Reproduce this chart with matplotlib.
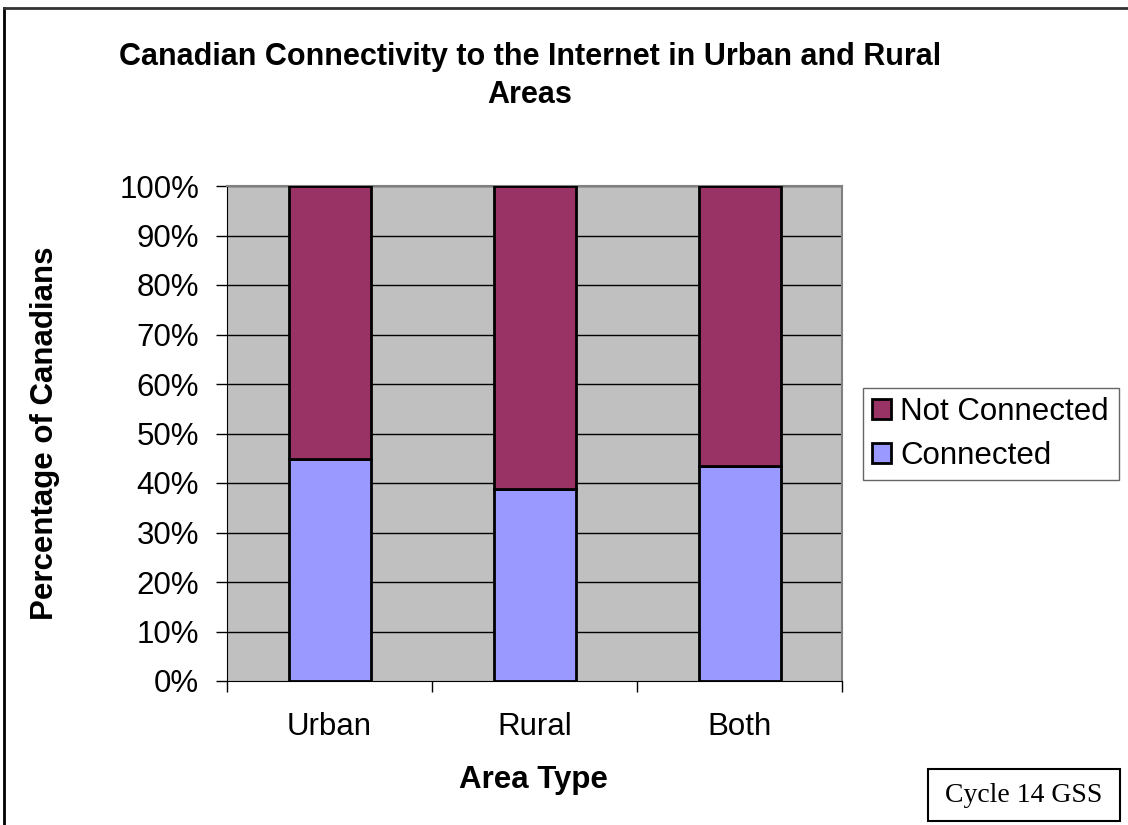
import matplotlib
matplotlib.use("Agg")
import matplotlib.pyplot as plt
from matplotlib.lines import Line2D
from matplotlib.patches import Patch, Rectangle
import numpy as np

plt.rcParams["font.family"] = ["Liberation Sans", "DejaVu Sans"]

AREAS = ["Urban", "Rural", "Both"]
CONNECTED = [44.8, 38.8, 43.5]
NOT_CONNECTED = [100 - v for v in CONNECTED]
Y_TICKS = list(range(0, 101, 10))

C_CONN = "#9999FF"
C_NOT = "#993366"
C_PLOT = "#C0C0C0"
FS = 22.5

W, H = 1128, 825
fig = plt.figure(figsize=(W / 100, H / 100), dpi=100)
ax = fig.add_axes([227 / W, 1 - 681 / H, 615 / W, 495 / H])
ax.set_facecolor(C_PLOT)

x = np.arange(len(AREAS))
ax.bar(x, CONNECTED, width=0.4, color=C_CONN, edgecolor="black",
       linewidth=2, zorder=3)
ax.bar(x, NOT_CONNECTED, bottom=CONNECTED, width=0.4, color=C_NOT,
       edgecolor="black", linewidth=2, zorder=3)

ax.set_xlim(-0.5, len(AREAS) - 0.5)
ax.set_ylim(0, 100)
ax.set_yticks(Y_TICKS)
ax.set_yticklabels([f"{t}%" for t in Y_TICKS], fontsize=FS)
for t in Y_TICKS[1:]:
    ax.axhline(t, color="black", linewidth=1, zorder=1)

# category labels centred, tick marks on the category boundaries
ax.set_xticks(x)
ax.set_xticklabels(AREAS, fontsize=FS)
ax.tick_params(axis="x", length=0, pad=22)
ax.set_xticks(np.arange(-0.5, len(AREAS)), minor=True)
ax.tick_params(axis="x", which="minor", length=8, width=1, direction="out")
ax.tick_params(axis="y", length=8, width=1, direction="out", pad=12)

for side in ["top", "right"]:
    ax.spines[side].set_color("#808080")
    ax.spines[side].set_linewidth(1.5)
ax.spines["left"].set_color("black")
ax.spines["bottom"].set_color("black")

fig.text(530 / W, 1 - 65 / H,
         "Canadian Connectivity to the Internet in Urban and Rural",
         ha="center", va="baseline", fontsize=22, fontweight="bold")
fig.text(530 / W, 1 - 103 / H, "Areas",
         ha="center", va="baseline", fontsize=22, fontweight="bold")
fig.text(533 / W, 1 - 780 / H, "Area Type", ha="center", va="center",
         fontsize=FS, fontweight="bold")
fig.text(45 / W, 1 - 433 / H, "Percentage of Canadians", ha="center",
         va="center", rotation=90, fontsize=FS, fontweight="bold")

handles = [Patch(facecolor=C_NOT, edgecolor="black", linewidth=2),
           Patch(facecolor=C_CONN, edgecolor="black", linewidth=2)]
leg = fig.legend(handles, ["Not Connected", "Connected"],
                 loc="center left", bbox_to_anchor=(863 / W, 1 - 434 / H),
                 fontsize=FS, frameon=True, fancybox=False,
                 handlelength=0.6, handleheight=0.6, handletextpad=0.3,
                 borderpad=0.3, labelspacing=0.45, borderaxespad=0)
leg.get_frame().set_edgecolor("#404040")
leg.get_frame().set_linewidth(1)

# source note box
fig.add_artist(Rectangle((928 / W, 1 - 821 / H), 192 / W, 52 / H,
                         facecolor="white", edgecolor="black", linewidth=1.5,
                         transform=fig.transFigure))
fig.text(1024 / W, 1 - 795 / H, "Cycle 14 GSS", ha="center", va="center",
         fontsize=20, family=["Liberation Serif", "DejaVu Serif"])

# outer chart border (top and left edges visible)
fig.add_artist(Line2D([4 / W, 4 / W], [0, 1 - 8 / H], color="black",
                      linewidth=2, transform=fig.transFigure))
fig.add_artist(Line2D([4 / W, 1], [1 - 8 / H, 1 - 8 / H],
                      color="#333333", linewidth=2, transform=fig.transFigure))

fig.savefig("out.png", dpi=100)
